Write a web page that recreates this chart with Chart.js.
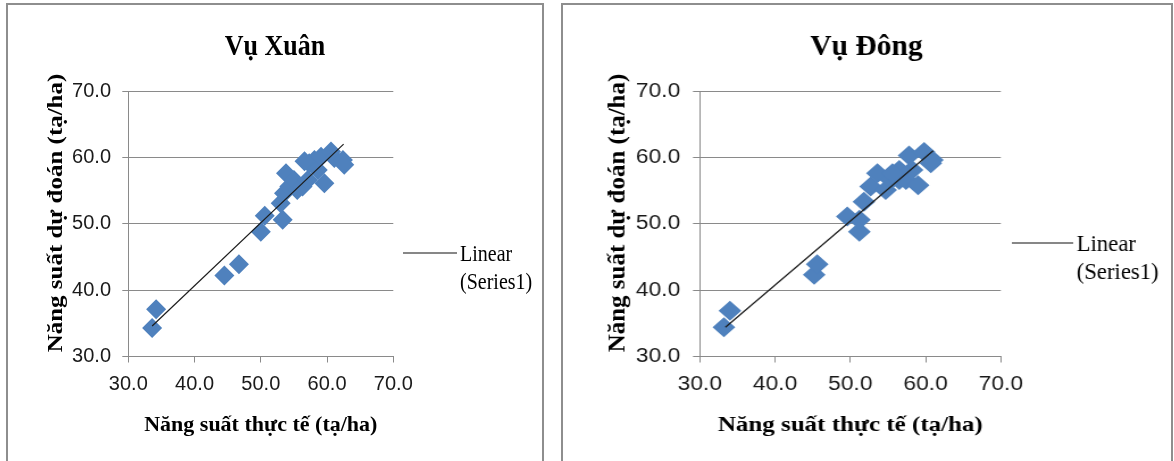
<!DOCTYPE html>
<html>
<head>
<meta charset="utf-8">
<script src="https://cdn.jsdelivr.net/npm/chart.js@4"></script>
<style>
  html, body { margin: 0; padding: 0; background: #fff; width: 1174px; height: 461px; overflow: hidden; }
  .panel { position: absolute; box-sizing: border-box; border: 2px solid #8e8e8e; border-bottom: none; }
  .wrap { position: absolute; top: 0; width: 536px; height: 461px; transform-origin: 0 0; }
  canvas { display: block; }
</style>
</head>
<body>
<div class="panel" style="left:6px;top:3px;width:538px;height:470px"></div>
<div class="panel" style="left:561px;top:3px;width:612px;height:470px"></div>
<div class="wrap" style="left:7px"><canvas id="xuan" width="536" height="461"></canvas></div>
<div class="wrap" style="left:562px;transform:scaleX(1.136)"><canvas id="dong" width="536" height="461"></canvas></div>

<script>
// Shared axis ticks
const tickValues = [30, 40, 50, 60, 70];
const tickLabels = ['30.0', '40.0', '50.0', '60.0', '70.0'];

// Vụ Xuân: actual vs predicted yield (tạ/ha)
const xuanActual    = [33.6, 34.2, 44.5, 46.7, 50.0, 50.6, 53.3, 53.0, 53.5, 53.8, 54.3, 55.0, 55.5, 56.3, 57.1, 57.3, 58.1, 58.6, 59.6, 59.1, 60.6, 61.1, 62.4, 62.6, 56.6];
const xuanPredicted = [34.3, 37.1, 42.2, 43.9, 48.8, 51.2, 50.6, 53.1, 54.6, 57.6, 55.6, 56.6, 55.1, 55.6, 56.6, 59.1, 59.6, 58.1, 56.1, 60.1, 60.9, 59.9, 59.6, 58.9, 59.4];
const xuanTrendX = [33.6, 62.5];
const xuanTrendY = [34.6, 62.0];

// Vụ Đông: actual vs predicted yield (tạ/ha)
const dongActual    = [33.2, 34.0, 45.2, 45.6, 49.6, 51.2, 51.2, 51.8, 52.7, 53.6, 54.7, 55.4, 56.5, 56.5, 57.8, 57.4, 58.2, 59.0, 59.8, 60.9, 60.7, 55.6];
const dongPredicted = [34.4, 36.9, 42.3, 43.9, 51.1, 48.8, 50.6, 53.3, 55.6, 57.6, 55.1, 56.6, 58.1, 56.6, 60.3, 56.6, 58.1, 55.8, 60.8, 59.6, 59.1, 57.6];
const dongTrendX = [33.4, 61.0];
const dongTrendY = [34.4, 61.0];

const GRID = '#8a8a8a';
const TALL = 1.135; // text in these panels is drawn slightly tall

function tallText(ctx, text, x, y, rot) {
  ctx.save();
  ctx.translate(x, y);
  if (rot) {
    ctx.rotate(-Math.PI / 2);
    ctx.scale(TALL, 1);
  } else {
    ctx.scale(1, TALL);
  }
  ctx.fillText(text, 0, 0);
  ctx.restore();
}

// Chart title, rotated y-axis title and the trendline legend
const decor = {
  id: 'decor',
  afterDraw(chart, args, o) {
    const ctx = chart.ctx;
    ctx.save();
    ctx.fillStyle = '#000';
    ctx.textAlign = 'center';
    ctx.textBaseline = 'alphabetic';
    ctx.font = 'bold 26px "Liberation Serif"';
    tallText(ctx, o.title, 268, 55, false);

    ctx.font = 'bold 22px "Liberation Serif"';
    tallText(ctx, o.yTitle, 55, 213, true);

    ctx.strokeStyle = '#111';
    ctx.lineWidth = 1.2;
    ctx.beginPath();
    ctx.moveTo(396, o.legendY);
    ctx.lineTo(450, o.legendY);
    ctx.stroke();
    ctx.textAlign = 'left';
    ctx.font = '20px "Liberation Serif"';
    tallText(ctx, o.legend[0], 453, o.legendY + 8, false);
    tallText(ctx, o.legend[1], 453, o.legendY + 36, false);
    ctx.restore();
  }
};

function axis(isX) {
  const a = {
    type: 'linear',
    min: 30,
    max: 70,
    afterBuildTicks: s => { s.ticks = tickValues.map(v => ({ value: v })); },
    border: { display: true, color: GRID, width: 1 },
    grid: { color: GRID, lineWidth: 1, drawTicks: true, tickLength: 6, drawOnChartArea: !isX },
    ticks: {
      color: '#1a1a1a',
      font: { family: 'Liberation Sans', size: 20 },
      padding: isX ? 10 : 11.3,
      callback: (v, i) => tickLabels[i]
    }
  };
  if (isX) {
    a.afterFit = s => { s.height = 104.5; };
    a.title = {
      display: true,
      text: 'Năng suất thực tế (tạ/ha)',
      color: '#000',
      font: { family: 'Liberation Serif', size: 22, weight: 'bold' },
      padding: { top: 0, bottom: 22 }
    };
  } else {
    a.afterFit = s => { s.width = 121.3; };
  }
  return a;
}

function build(id, title, actual, predicted, trendX, trendY, legendY) {
  return new Chart(document.getElementById(id), {
    type: 'scatter',
    data: {
      datasets: [
        {
          label: 'Linear (Series1)',
          data: trendX.map((x, i) => ({ x, y: trendY[i] })),
          showLine: true,
          borderColor: '#1c1c1c',
          borderWidth: 1.2,
          pointRadius: 0
        },
        {
          label: 'Series1',
          data: actual.map((x, i) => ({ x, y: predicted[i] })),
          pointStyle: 'rectRot',
          pointRadius: 10,
          backgroundColor: '#4F81BD',
          borderColor: '#4F81BD',
          borderWidth: 0
        }
      ]
    },
    options: {
      responsive: false,
      animation: false,
      events: [],
      layout: { padding: { left: 0, top: 91, right: 149.7, bottom: 0 } },
      plugins: {
        legend: { display: false },
        tooltip: { enabled: false },
        decor: {
          title,
          yTitle: 'Năng suất dự đoán (tạ/ha)',
          legend: ['Linear', '(Series1)'],
          legendY
        }
      },
      scales: { x: axis(true), y: axis(false) }
    },
    plugins: [decor]
  });
}

build('xuan', 'Vụ Xuân', xuanActual, xuanPredicted, xuanTrendX, xuanTrendY, 253);
build('dong', 'Vụ Đông', dongActual, dongPredicted, dongTrendX, dongTrendY, 243);
</script>
</body>
</html>
